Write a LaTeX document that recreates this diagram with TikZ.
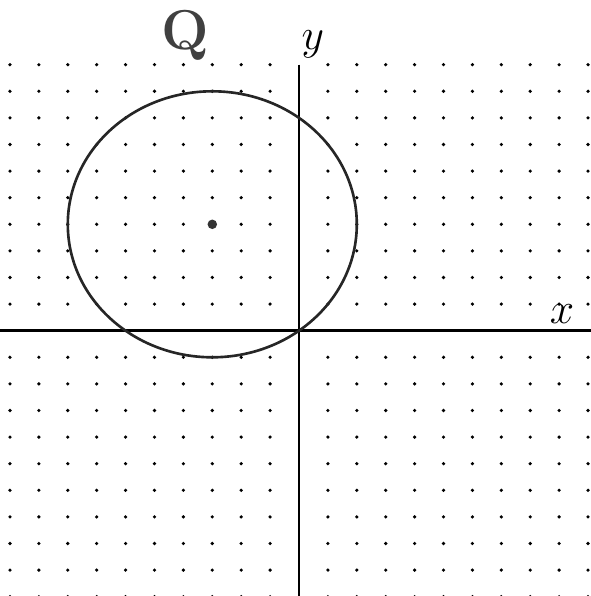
\documentclass[tikz,border=0pt]{standalone}
\begin{document}
\begin{tikzpicture}[x=0.578cm,y=0.532cm,
  gdot/.style={fill=black,draw=none},
  axisline/.style={line width=1.6pt,black},
  curve/.style={line width=1.5pt,black!85},
  lbl/.style={inner sep=0pt}]
\useasboundingbox (-5.98cm,-5.306cm) rectangle (5.84cm,6.614cm);
% dot grid
\foreach \i in {-10,...,10}{
  \foreach \j in {-10,...,10}{
    \ifnum\i=0\relax\else\ifnum\j=0\relax\else
      \fill[gdot] (\i,\j) circle (0.036cm);
    \fi\fi
  }
}
% axes
\draw[axisline] (-5.98cm,0) -- (5.84cm,0);
\draw[axisline] (0,10) -- (0,-5.306cm);
% circle
\draw[curve] (-3,4) circle [x radius=5, y radius=5];
\node[circle,fill=black!80,inner sep=0pt,minimum size=0.19cm] (c) at (-3,4) {};
% labels
\node[lbl,text=black!75] (q) at (-3.94,11.1) {\fontsize{32}{32}\selectfont\bfseries Q};
\node[lbl] (ylab) at (0.48,10.75) {\fontsize{24}{24}\selectfont$y$};
\node[lbl] (xlab) at (9.1,0.62) {\fontsize{24}{24}\selectfont$x$};
\end{tikzpicture}
\end{document}
